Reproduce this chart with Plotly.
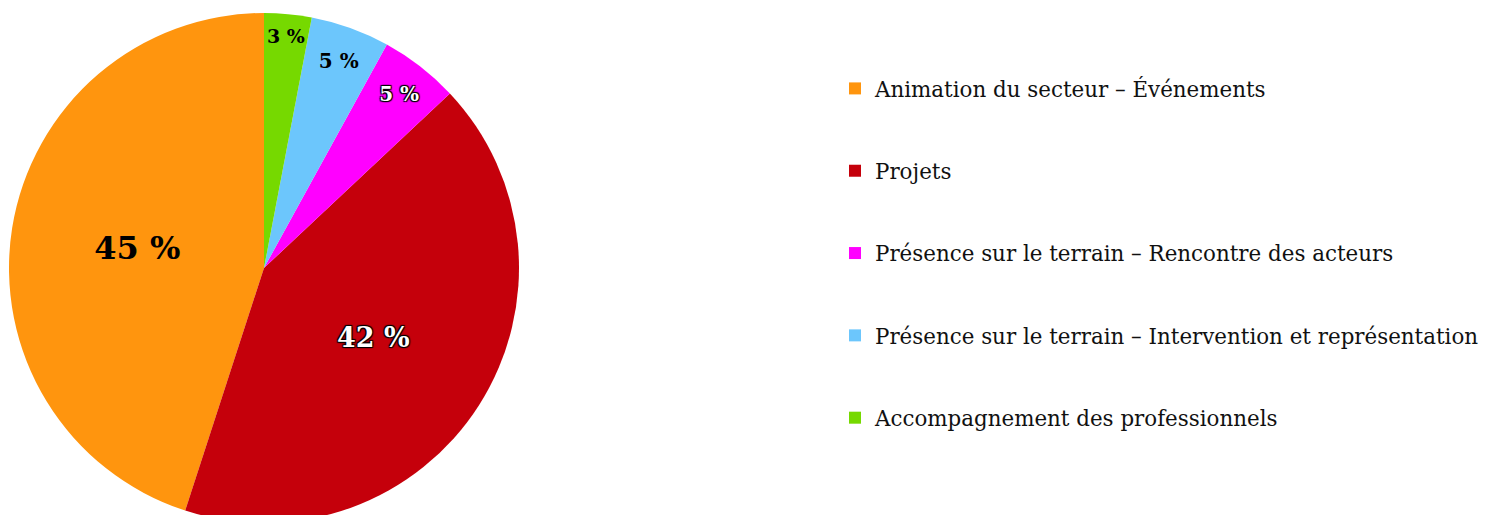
import plotly.graph_objects as go

labels = [
    "Animation du secteur – Événements",
    "Projets",
    "Présence sur le terrain – Rencontre des acteurs",
    "Présence sur le terrain – Intervention et représentation",
    "Accompagnement des professionnels",
]
values = [45, 42, 5, 5, 3]
colors = ["#FF950E", "#C5000B", "#FF00FF", "#6CC6FC", "#76D900"]
text_colors = ["#000000", "#FFFFFF", "#FFFFFF", "#000000", "#000000"]
text_sizes = [32, 27, 20, 20, 19]
outline = "1px 1px 1px #000, -1px -1px 1px #000, 1px -1px 1px #000, -1px 1px 1px #000"
text_shadows = ["none", outline, outline, "none", "none"]

W, H = 1494, 530
fig = go.Figure()
fig.add_trace(go.Pie(
    labels=labels,
    values=values,
    text=[f"{v} %" for v in values],
    textinfo="text",
    textposition="inside",
    insidetextorientation="horizontal",
    sort=False,
    direction="counterclockwise",
    rotation=-162,
    marker=dict(colors=colors, line=dict(width=0)),
    textfont=dict(family="DejaVu Serif", color=text_colors, size=text_sizes, weight="bold",
                  shadow=text_shadows),
    showlegend=False,
    hoverinfo="label+percent",
    domain=dict(x=[9 / W, 519 / W], y=[0, 1]),
))

# legend entries
for lab, col in zip(labels, colors):
    fig.add_trace(go.Scatter(
        x=[None], y=[None], mode="markers", name=lab,
        marker=dict(symbol="square", size=13, color=col),
        legendgroup=lab, showlegend=True,
    ))

fig.update_layout(
    width=W, height=H,
    margin=dict(l=0, r=0, t=13, b=7),
    paper_bgcolor="white", plot_bgcolor="white",
    xaxis=dict(visible=False), yaxis=dict(visible=False),
    legend=dict(
        x=835 / W, xanchor="left", y=1 - (88 - 13 - 20) / 510, yanchor="top",
        font=dict(family="DejaVu Serif", size=21.4, color="#111111"),
        tracegroupgap=51.5, itemsizing="constant", bgcolor="rgba(0,0,0,0)",
    ),
)

fig.write_html(
    "out.html",
    config={"displayModeBar": False},
    post_script="document.body.style.margin='0';document.body.style.overflow='hidden';"
                "document.documentElement.style.overflow='hidden';",
)
